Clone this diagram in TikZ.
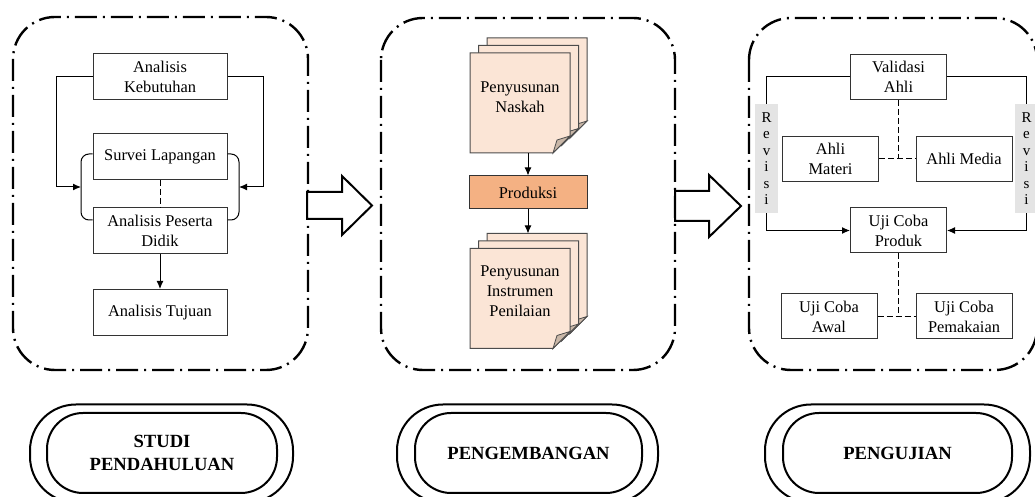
\documentclass[tikz,border=0pt]{standalone}
\usepackage{fontspec}
\setmainfont{Liberation Serif}
\usetikzlibrary{arrows.meta}

\definecolor{paper}{HTML}{FBE5D6}
\definecolor{curl}{HTML}{C9B7A8}
\definecolor{prodfill}{HTML}{F4B183}
\definecolor{revfill}{HTML}{E4E4E4}

\begin{document}
\begin{tikzpicture}[
  x=0.5pt, y=-0.5pt,
  font=\fontsize{8.2}{10}\selectfont,
  box/.style={
    draw=black!80,
    line width=0.5pt,
    fill=white,
    align=center,
    inner sep=1pt,
    minimum width=67pt,
    minimum height=23pt
  },
  tbox/.style={box, minimum width=48pt, minimum height=22.5pt},
  flow/.style={-{Latex[length=4pt,width=3.5pt]}, line width=0.5pt},
  link/.style={line width=0.5pt, dash pattern=on 3pt off 1.5pt},
  panel/.style={
    line width=1.2pt,
    dash pattern=on 11pt off 3pt on 1pt off 3pt,
    rounded corners=21pt
  },
  bigarrow/.style={line width=1pt, fill=white, line join=miter},
  sheet/.style={draw=black!70, line width=0.5pt, fill=paper},
  fold/.style={draw=black!70, line width=0.4pt, fill=curl},
  revisi/.style={
    fill=revfill,
    align=center,
    inner sep=0pt,
    minimum width=11.5pt,
    minimum height=54.5pt,
    font=\fontsize{7.5}{8.2}\selectfont
  },
  ovalout/.style={draw, line width=1pt, rounded corners=23pt, minimum height=49pt},
  ovalin/.style={
    draw,
    line width=1pt,
    rounded corners=18pt,
    minimum height=40pt,
    align=center,
    font=\bfseries\fontsize{9.3}{11.5}\selectfont
  },
  sheets/.pic={
    \foreach \d in {2,1,0} {
      \begin{scope}[shift={(8.5*\d,-7.5*\d)}]
        \filldraw[sheet] (-50,-50) -- (50,-50) -- (50,33) -- (33,50) -- (-50,50) -- cycle;
        \filldraw[fold] (33,50) -- (50,33) -- (37,37) -- cycle;
      \end{scope}
    }
    \coordinate (-s) at (8,50);
    \coordinate (-n) at (8,-65);
  }
]
  \useasboundingbox (0,0) rectangle (1035,497);

  % dash-dot frames
  \draw[panel] (13,17) rectangle (308,370);
  \draw[panel] (381,18) rectangle (675,370);
  \draw[panel] (749,18) rectangle (1037,370);

  % studi pendahuluan
  \node[box] (keb) at (160,77) {Analisis\\Kebutuhan};
  \node[box] (sur) at (160,156.5) {Survei Lapangan};
  \node[box] (pes) at (160,231) {Analisis Peserta\\Didik};
  \node[box] (tuj) at (160,312.5) {Analisis Tujuan};
  \coordinate (brl) at (81,187);
  \coordinate (brr) at (239,187);
  \draw[line width=0.5pt, rounded corners=4pt]
    ([yshift=1.25pt]sur.west) -| (brl) |- ([yshift=5.5pt]pes.west);
  \draw[line width=0.5pt, rounded corners=4pt]
    ([yshift=1.25pt]sur.east) -| (brr) |- ([yshift=5.5pt]pes.east);
  \draw[flow] (keb.west) -- ++(-36,0) |- (brl);
  \draw[flow] (keb.east) -- ++(36,0) |- (brr);
  \draw[link] (sur) -- (pes);
  \draw[flow] (pes) -- (tuj);

  \draw[bigarrow] (307,192) -- (342,192) -- (342,176) -- (372,205.5)
    -- (342,235) -- (342,219) -- (307,219) -- cycle;

  % pengembangan
  \pic (nasdoc) at (520,103) {sheets};
  \node[align=center] (nas) at (520,97) {Penyusunan\\Naskah};
  \node[box, fill=prodfill, minimum width=59pt, minimum height=16.5pt] (prod)
    at (528,192.5) {Produksi};
  \pic (insdoc) at (520,298.5) {sheets};
  \node[align=center] (ins) at (520,291) {Penyusunan\\Instrumen\\Penilaian};
  \draw[flow] (nasdoc-s) -- (prod);
  \draw[flow] (prod) -- (insdoc-n);

  \draw[bigarrow] (675,191) -- (709,191) -- (709,175) -- (741,206)
    -- (709,237) -- (709,221) -- (675,221) -- cycle;

  % pengujian
  \node[tbox] (val) at (898.5,77) {Validasi\\Ahli};
  \node[tbox] (mat) at (830.5,159) {Ahli\\Materi};
  \node[tbox] (med) at (964,159) {Ahli Media};
  \node[tbox] (ujp) at (898.5,230.5) {Uji Coba\\Produk};
  \node[tbox] (awal) at (829,316.5) {Uji Coba\\Awal};
  \node[tbox] (pem) at (964,316.5) {Uji Coba\\Pemakaian};
  \node[revisi] (revl) at (766.5,158.5) {R\\e\\v\\i\\s\\i};
  \node[revisi] (revr) at (1026.5,158.5) {R\\e\\v\\i\\s\\i};
  \draw[line width=0.5pt] (val.west) -| (revl.north);
  \draw[line width=0.5pt] (val.east) -| (revr.north);
  \draw[flow] (revl.south) |- (ujp.west);
  \draw[flow] (revr.south) |- (ujp.east);
  \draw[link] (val.south) -- (val.south |- mat.east);
  \draw[link] (mat.east) -- (med.west);
  \draw[link] (ujp.south) -- (ujp.south |- awal.east);
  \draw[link] (awal.east) -- (pem.west);

  % stage labels
  \node[ovalout, minimum width=131.5pt] (studo) at (161.5,453.5) {};
  \node[ovalin, minimum width=115pt] (studi) at (162,453) {STUDI\\PENDAHULUAN};
  \node[ovalout, minimum width=130.5pt] (pengo) at (527.5,453.5) {};
  \node[ovalin, minimum width=113.5pt] (peng) at (528.5,453) {PENGEMBANGAN};
  \node[ovalout, minimum width=132.5pt] (ujio) at (897.5,453.5) {};
  \node[ovalin, minimum width=114.5pt] (uji) at (897.5,453) {PENGUJIAN};
\end{tikzpicture}
\end{document}
